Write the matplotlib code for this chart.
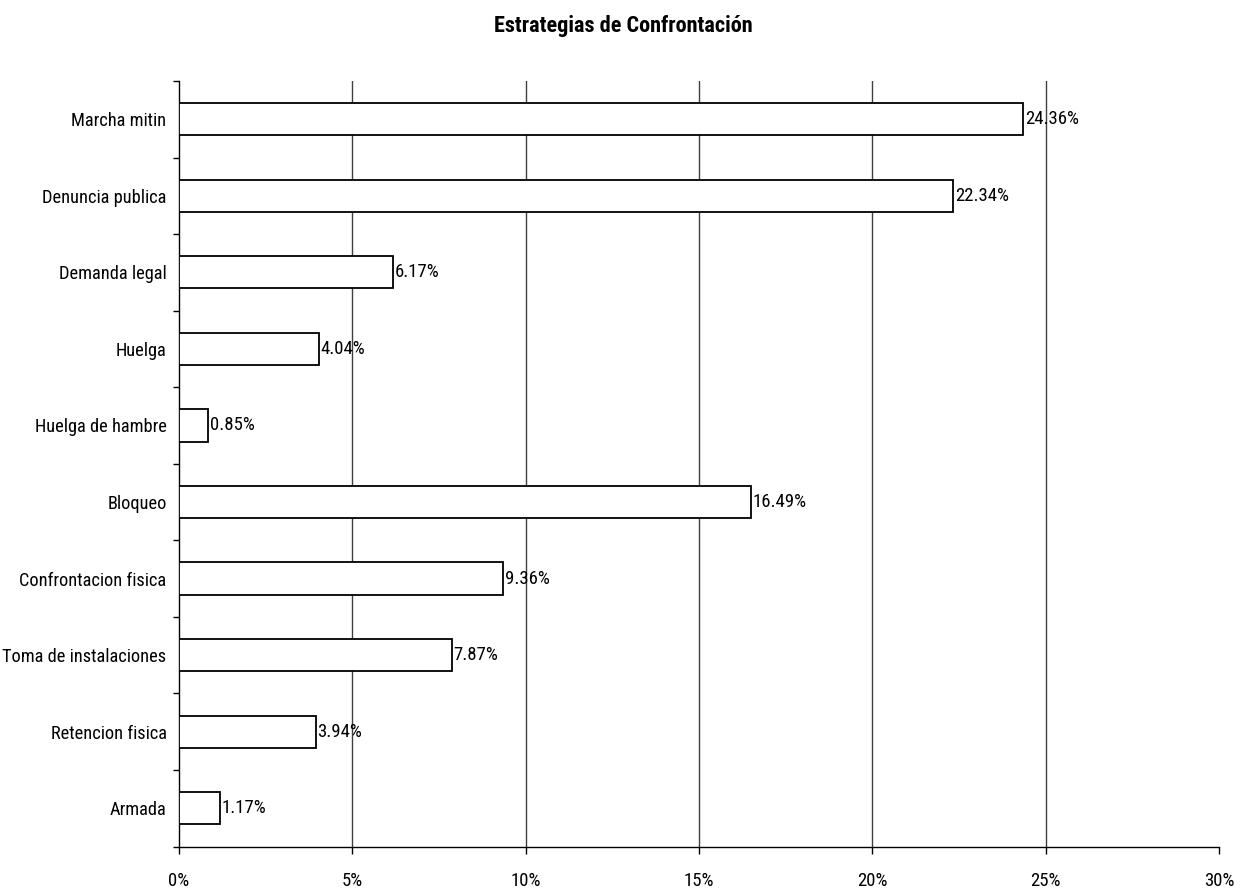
import matplotlib
matplotlib.use("Agg")
import matplotlib.pyplot as plt
from matplotlib import font_manager
import numpy as np

categories = ["Marcha mitin", "Denuncia publica", "Demanda legal", "Huelga",
              "Huelga de hambre", "Bloqueo", "Confrontacion fisica",
              "Toma de instalaciones", "Retencion fisica", "Armada"]
values = [24.36, 22.34, 6.17, 4.04, 0.85, 16.49, 9.36, 7.87, 3.94, 1.17]
xticks = [0, 5, 10, 15, 20, 25, 30]

names = {f.name for f in font_manager.fontManager.ttflist}
fam, fs, ts = "Liberation Sans", 12, 13
for cand, size, tsize in [("Liberation Sans Narrow", 14, 16), ("Roboto Condensed", 13.5, 16)]:
    if cand in names:
        fam, fs, ts = cand, size, tsize
        break
plt.rcParams["font.family"] = [fam, "DejaVu Sans"]
ys = fs - 0.3 if fs > 12 else fs

fig = plt.figure(figsize=(12.47, 8.90), dpi=100)
ax = fig.add_axes([179/1247, 1-846.5/890, (1219-179)/1247, (846.5-81)/890])

n = len(categories)
y = np.arange(n)[::-1]
ax.barh(y, values, height=0.42, color="white", edgecolor="black", linewidth=1.3, zorder=3)
for yi, v in zip(y, values):
    ax.text(v + 0.05, yi, f"{v:.2f}%", va="center", ha="left", fontsize=fs, zorder=4)

ax.set_xlim(0, 30)
ax.set_ylim(-0.5, n - 0.5)
ax.set_xticks(xticks)
ax.set_xticklabels([f"{t}%" for t in xticks], fontsize=fs)
ax.set_yticks(y)
ax.set_yticklabels(categories, fontsize=ys)
ax.set_yticks(np.arange(n + 1) - 0.5, minor=True)
ax.tick_params(axis="y", which="major", length=0, pad=9)
ax.tick_params(axis="y", which="minor", length=4, width=1, direction="out")
ax.tick_params(axis="x", which="major", length=5, width=1, direction="out", pad=13)
for t in xticks[1:-1]:
    ax.axvline(t, color="#404040", linewidth=1, zorder=1)
for s in ["top", "right"]:
    ax.spines[s].set_visible(False)
for s in ["left", "bottom"]:
    ax.spines[s].set_linewidth(1)
    ax.spines[s].set_color("black")

fig.text(0.5, 1-26/890, "Estrategias de Confrontación", ha="center", va="center",
         fontsize=ts, fontweight="bold")

fig.savefig("out.png", dpi=100)
